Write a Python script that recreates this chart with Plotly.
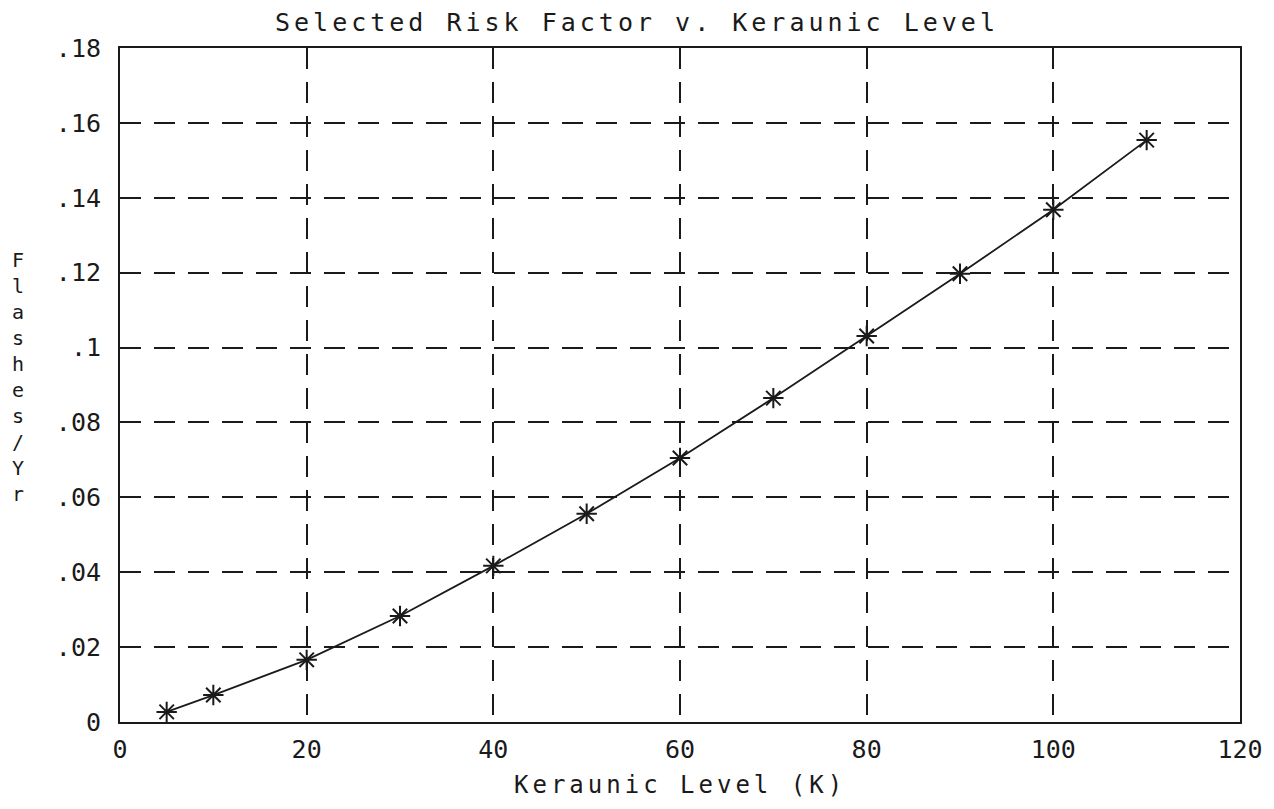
import plotly.graph_objects as go

keraunic = [5, 10, 20, 30, 40, 50, 60, 70, 80, 90, 100, 110]
flashes = [0.0027, 0.0072, 0.0166, 0.0283, 0.0417, 0.0556, 0.0705, 0.0865, 0.1031, 0.1197, 0.1368, 0.1554]

x_ticks = [0, 20, 40, 60, 80, 100, 120]
x_labels = ["0", "20", "40", "60", "80", "100", "120"]
y_ticks = [0, 0.02, 0.04, 0.06, 0.08, 0.10, 0.12, 0.14, 0.16, 0.18]
y_labels = ["0", ".02", ".04", ".06", ".08", ".1", ".12", ".14", ".16", ".18"]

title_text = "Selected Risk Factor v. Keraunic Level"
x_title = "Keraunic Level (K)"
y_title = "Flashes/Yr"

FONT = "DejaVu Sans Mono"
INK = "#1a1a1a"

fig = go.Figure()
fig.add_trace(go.Scatter(
    x=keraunic, y=flashes, mode="lines+markers",
    line=dict(color=INK, width=1.8),
    marker=dict(symbol="asterisk-open", size=17, color=INK, line=dict(color=INK, width=2)),
    showlegend=False,
))

# page body has an 8px margin, so the figure is sized/offset to compensate
fig.update_layout(
    width=1258, height=793,
    margin=dict(l=112, r=26, t=40, b=79, autoexpand=False),
    paper_bgcolor="white", plot_bgcolor="white",
    font=dict(family=FONT, color=INK, size=24),
    xaxis=dict(
        range=[0, 120], tickvals=x_ticks, ticktext=x_labels, automargin=False,
        showline=True, linecolor=INK, linewidth=2, mirror=True,
        showgrid=True, gridcolor=INK, gridwidth=2, griddash="21px,13px",
        zeroline=False, ticks="", ticklabelstandoff=4,
        tickfont=dict(family=FONT, size=25, color=INK),
    ),
    yaxis=dict(
        range=[0, 0.18], tickvals=y_ticks, ticktext=y_labels, automargin=False,
        showline=True, linecolor=INK, linewidth=2, mirror=True,
        showgrid=True, gridcolor=INK, gridwidth=2, griddash="21px,13px",
        zeroline=False, ticks="", ticklabelstandoff=12,
        tickfont=dict(family=FONT, size=25, color=INK),
    ),
)

def spaced(t, px):
    return '<span style="letter-spacing:%dpx">%s</span>' % (px, t)

fig.add_annotation(
    text=spaced(title_text, 4), xref="paper", yref="paper",
    x=0.462, y=1.0, yshift=26, yanchor="middle", xanchor="center", showarrow=False,
    font=dict(family=FONT, size=25, color=INK),
)
fig.add_annotation(
    text=spaced(x_title, 4), xref="paper", yref="paper",
    x=0.5, y=0, yshift=-63, yanchor="middle", xanchor="center", showarrow=False,
    font=dict(family=FONT, size=24, color=INK),
)
fig.add_annotation(
    text="<br>".join(list(y_title)), xref="paper", yref="paper",
    x=0, xshift=-102, y=0.512, yanchor="middle", xanchor="center", showarrow=False,
    font=dict(family=FONT, size=20, color=INK),
)

fig.write_html("out.html")
